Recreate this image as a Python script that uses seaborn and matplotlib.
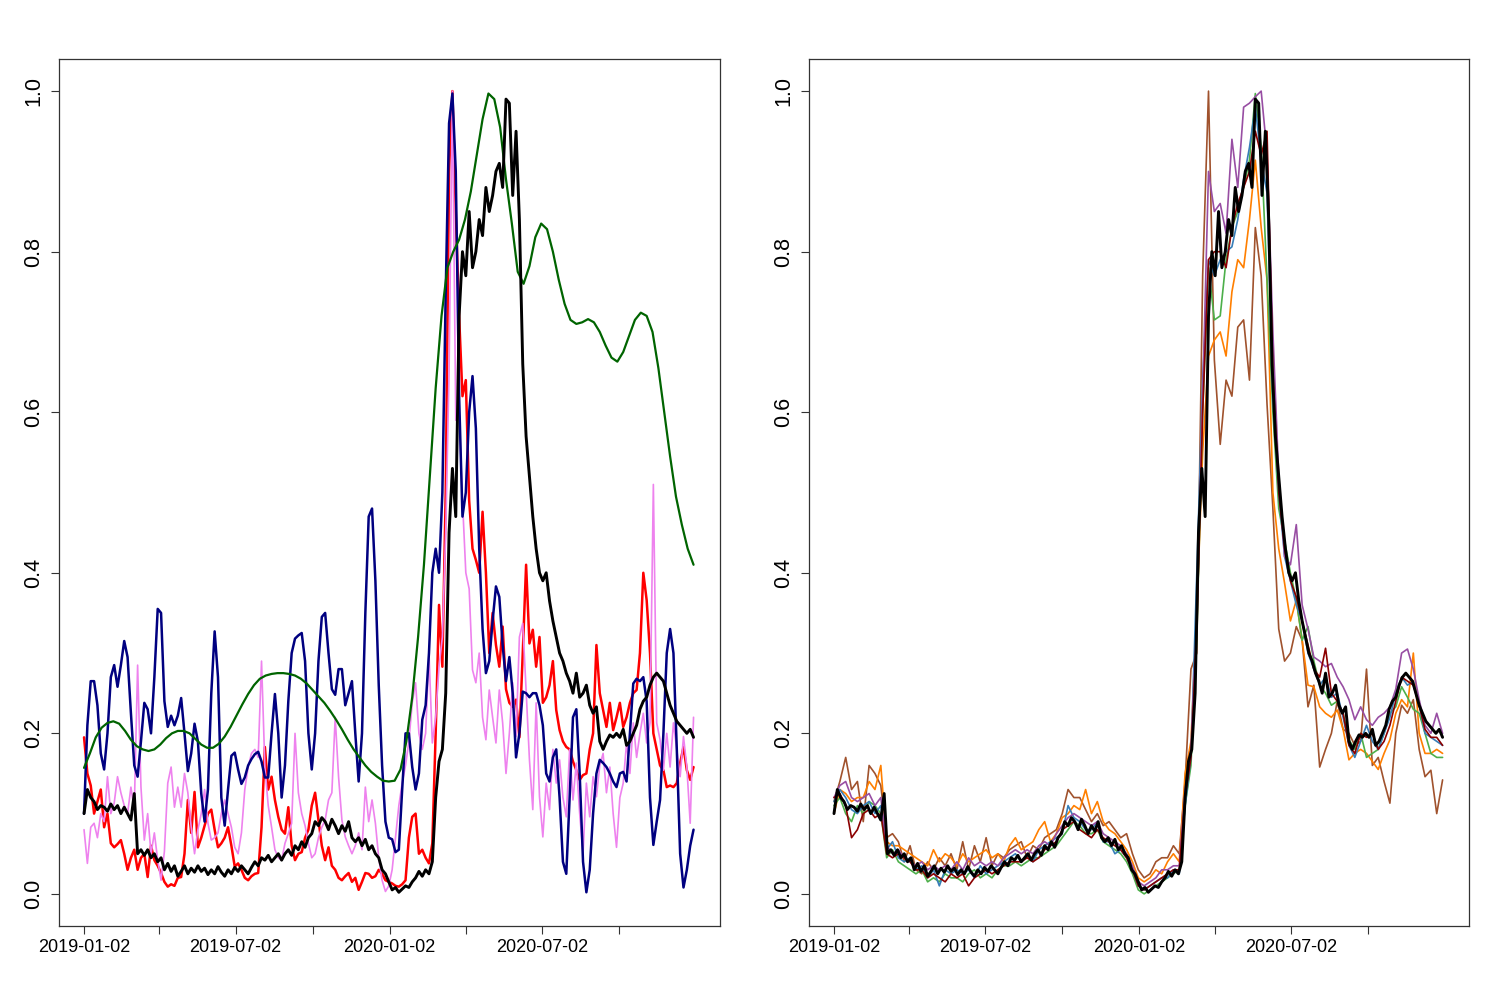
import numpy as np
import pandas as pd
import matplotlib
matplotlib.use("Agg")
import matplotlib.pyplot as plt
import seaborn as sns

# ---------------- data ----------------
start = "2019-01-02"
n4 = 183   # samples every 4 days
n7 = 105   # samples every 7 days

black = [
    0.10, 0.13, 0.12, 0.115, 0.105, 0.11, 0.108, 0.103, 0.112, 0.105,
    0.11, 0.10, 0.108, 0.10, 0.092, 0.125, 0.05, 0.055, 0.048, 0.055,
    0.045, 0.05, 0.04, 0.045, 0.03, 0.038, 0.028, 0.035, 0.022, 0.028,
    0.035, 0.025, 0.032, 0.027, 0.035, 0.028, 0.032, 0.024, 0.03, 0.025,
    0.034, 0.027, 0.022, 0.03, 0.025, 0.033, 0.028, 0.035, 0.03, 0.025,
    0.033, 0.04, 0.035, 0.045, 0.042, 0.048, 0.04, 0.045, 0.05, 0.042,
    0.05, 0.055, 0.048, 0.06, 0.055, 0.065, 0.058, 0.07, 0.075, 0.09,
    0.085, 0.095, 0.09, 0.08, 0.093, 0.085, 0.075, 0.085, 0.078, 0.09,
    0.07, 0.065, 0.07, 0.06, 0.068, 0.055, 0.06, 0.05, 0.045, 0.03,
    0.025, 0.015, 0.005, 0.008, 0.002, 0.006, 0.01, 0.008, 0.015, 0.02,
    0.028, 0.022, 0.03, 0.025, 0.04, 0.12, 0.165, 0.18, 0.25, 0.45,
    0.53, 0.47, 0.72, 0.8, 0.77, 0.85, 0.78, 0.8, 0.84, 0.82,
    0.88, 0.85, 0.87, 0.9, 0.91, 0.88, 0.99, 0.985, 0.87, 0.95,
    0.84, 0.66, 0.57, 0.52, 0.47, 0.43, 0.40, 0.39, 0.40, 0.365,
    0.34, 0.32, 0.30, 0.29, 0.275, 0.265, 0.25, 0.275, 0.245, 0.25,
    0.26, 0.235, 0.225, 0.233, 0.19, 0.18, 0.19, 0.198, 0.195, 0.2,
    0.195, 0.205, 0.185, 0.19, 0.2, 0.21, 0.23, 0.24, 0.245, 0.26,
    0.27, 0.275, 0.27, 0.265, 0.25, 0.235, 0.225, 0.215, 0.21, 0.205,
    0.2, 0.205, 0.195]

navy = [
    0.10, 0.21, 0.265, 0.265, 0.235, 0.175, 0.155, 0.2, 0.27, 0.285,
    0.258, 0.285, 0.315, 0.295, 0.225, 0.16, 0.146, 0.19, 0.238, 0.23,
    0.2, 0.27, 0.355, 0.35, 0.24, 0.208, 0.222, 0.21, 0.222, 0.244,
    0.2, 0.153, 0.175, 0.212, 0.19, 0.125, 0.09, 0.13, 0.25, 0.327,
    0.27, 0.12, 0.085, 0.13, 0.172, 0.176, 0.155, 0.137, 0.145, 0.16,
    0.168, 0.174, 0.177, 0.165, 0.145, 0.145, 0.2, 0.249, 0.2, 0.12,
    0.16, 0.24, 0.3, 0.318, 0.322, 0.325, 0.29, 0.2, 0.155, 0.2,
    0.29, 0.345, 0.35, 0.3, 0.255, 0.248, 0.28, 0.28, 0.235, 0.25,
    0.265, 0.2, 0.14, 0.2, 0.35, 0.47, 0.48, 0.39, 0.26, 0.16,
    0.09, 0.07, 0.068, 0.052, 0.055, 0.13, 0.2, 0.2, 0.158, 0.13,
    0.15, 0.217, 0.235, 0.3, 0.4, 0.43, 0.4, 0.5, 0.75, 0.96,
    0.997, 0.9, 0.62, 0.47, 0.5, 0.6, 0.645, 0.58, 0.43, 0.33,
    0.275, 0.29, 0.34, 0.383, 0.37, 0.31, 0.265, 0.295, 0.25, 0.17,
    0.2, 0.252, 0.25, 0.245, 0.25, 0.25, 0.235, 0.21, 0.15, 0.14,
    0.17, 0.18, 0.12, 0.04, 0.025, 0.12, 0.22, 0.23, 0.15, 0.04,
    0.002, 0.03, 0.1, 0.15, 0.167, 0.163, 0.158, 0.15, 0.14, 0.133,
    0.15, 0.152, 0.14, 0.2, 0.262, 0.268, 0.265, 0.27, 0.24, 0.12,
    0.061, 0.09, 0.117, 0.2, 0.3, 0.33, 0.3, 0.18, 0.05, 0.008,
    0.03, 0.06, 0.08]

red = [
    0.195, 0.15, 0.135, 0.10, 0.115, 0.13, 0.083, 0.1, 0.063, 0.058,
    0.062, 0.067, 0.05, 0.03, 0.045, 0.055, 0.03, 0.045, 0.05, 0.021,
    0.06, 0.042, 0.035, 0.026, 0.015, 0.009, 0.012, 0.01, 0.02, 0.021,
    0.05, 0.117, 0.076, 0.127, 0.058, 0.07, 0.085, 0.1, 0.105, 0.08,
    0.058, 0.063, 0.07, 0.083, 0.06, 0.034, 0.038, 0.03, 0.02, 0.017,
    0.022, 0.025, 0.026, 0.083, 0.183, 0.13, 0.146, 0.117, 0.096, 0.08,
    0.075, 0.108, 0.06, 0.042, 0.05, 0.052, 0.07, 0.08, 0.11, 0.126,
    0.092, 0.06, 0.042, 0.058, 0.035, 0.03, 0.02, 0.017, 0.022, 0.026,
    0.015, 0.02, 0.005, 0.015, 0.026, 0.025, 0.02, 0.022, 0.03, 0.025,
    0.017, 0.015, 0.013, 0.01, 0.009, 0.012, 0.017, 0.07, 0.096, 0.1,
    0.05, 0.055, 0.045, 0.038, 0.063, 0.2, 0.36, 0.283, 0.5, 0.9,
    1.0, 0.85, 0.72, 0.62, 0.64, 0.49, 0.43, 0.416, 0.4, 0.476,
    0.4, 0.3, 0.35, 0.31, 0.283, 0.333, 0.255, 0.238, 0.233, 0.242,
    0.195, 0.3, 0.41, 0.312, 0.329, 0.283, 0.32, 0.238, 0.245, 0.26,
    0.29, 0.229, 0.204, 0.19, 0.183, 0.18, 0.165, 0.154, 0.142, 0.148,
    0.15, 0.18, 0.2, 0.31, 0.25, 0.229, 0.208, 0.238, 0.204, 0.22,
    0.238, 0.208, 0.22, 0.238, 0.25, 0.254, 0.3, 0.4, 0.366, 0.3,
    0.2, 0.18, 0.16, 0.154, 0.133, 0.135, 0.133, 0.138, 0.163, 0.183,
    0.154, 0.142, 0.158]

violet = [
    0.08, 0.038, 0.083, 0.088, 0.07, 0.1, 0.09, 0.146, 0.1, 0.113,
    0.146, 0.126, 0.11, 0.1, 0.133, 0.105, 0.285, 0.133, 0.067, 0.1,
    0.05, 0.076, 0.042, 0.017, 0.053, 0.138, 0.158, 0.108, 0.133, 0.108,
    0.15, 0.126, 0.083, 0.05, 0.08, 0.1, 0.13, 0.088, 0.067, 0.07,
    0.076, 0.1, 0.117, 0.1, 0.083, 0.058, 0.05, 0.076, 0.13, 0.158,
    0.175, 0.18, 0.17, 0.29, 0.158, 0.11, 0.083, 0.055, 0.045, 0.042,
    0.063, 0.075, 0.088, 0.2, 0.126, 0.1, 0.085, 0.063, 0.045, 0.05,
    0.07, 0.083, 0.092, 0.117, 0.126, 0.22, 0.146, 0.092, 0.071, 0.06,
    0.05, 0.06, 0.076, 0.055, 0.133, 0.09, 0.117, 0.088, 0.045, 0.017,
    0.003, 0.01, 0.03, 0.07, 0.11, 0.138, 0.16, 0.19, 0.238, 0.263,
    0.2, 0.18, 0.2, 0.3, 0.188, 0.22, 0.283, 0.32, 0.45, 0.65,
    1.0, 0.59, 0.6, 0.49, 0.4, 0.38, 0.279, 0.263, 0.3, 0.22,
    0.192, 0.254, 0.22, 0.188, 0.254, 0.213, 0.15, 0.2, 0.263, 0.196,
    0.32, 0.337, 0.254, 0.167, 0.105, 0.238, 0.121, 0.071, 0.138, 0.105,
    0.18, 0.138, 0.167, 0.12, 0.096, 0.18, 0.117, 0.163, 0.1, 0.05,
    0.138, 0.096, 0.146, 0.121, 0.16, 0.175, 0.126, 0.158, 0.1, 0.058,
    0.12, 0.138, 0.188, 0.15, 0.213, 0.17, 0.2, 0.225, 0.188, 0.213,
    0.51, 0.213, 0.192, 0.154, 0.2, 0.158, 0.213, 0.18, 0.146, 0.196,
    0.158, 0.088, 0.22]

darkgreen = [
    0.157, 0.175, 0.195, 0.207, 0.213, 0.215, 0.212, 0.203, 0.192, 0.184,
    0.18, 0.178, 0.18, 0.186, 0.194, 0.2, 0.203, 0.203, 0.2, 0.193,
    0.186, 0.182, 0.182, 0.187, 0.196, 0.208, 0.222, 0.236, 0.249, 0.26,
    0.268, 0.272, 0.274, 0.275, 0.275, 0.274, 0.272, 0.268, 0.262, 0.254,
    0.246, 0.238, 0.228, 0.217, 0.205, 0.192, 0.18, 0.17, 0.16, 0.152,
    0.146, 0.141, 0.14, 0.141, 0.155, 0.19, 0.245, 0.32, 0.41, 0.52,
    0.63, 0.72, 0.78, 0.8, 0.815, 0.84, 0.875, 0.92, 0.965, 0.997,
    0.99, 0.955, 0.89, 0.835, 0.775, 0.76, 0.782, 0.818, 0.835, 0.828,
    0.8, 0.765, 0.735, 0.715, 0.71, 0.712, 0.716, 0.712, 0.7, 0.683,
    0.668, 0.663, 0.675, 0.695, 0.715, 0.724, 0.72, 0.7, 0.655, 0.6,
    0.545, 0.495, 0.46, 0.43, 0.41]

m_blue = [
    0.115, 0.13, 0.12, 0.105, 0.1, 0.11, 0.115, 0.1, 0.11, 0.055,
    0.065, 0.045, 0.04, 0.045, 0.03, 0.035, 0.02, 0.03, 0.01, 0.03,
    0.025, 0.03, 0.025, 0.03, 0.02, 0.035, 0.025, 0.03, 0.035, 0.04,
    0.045, 0.05, 0.04, 0.05, 0.04, 0.055, 0.06, 0.065, 0.07, 0.075,
    0.11, 0.095, 0.09, 0.08, 0.08, 0.09, 0.065, 0.065, 0.05, 0.055,
    0.045, 0.03, 0.01, 0.005, 0.01, 0.015, 0.02, 0.02, 0.03, 0.025,
    0.11, 0.17, 0.4, 0.64, 0.79, 0.77, 0.79, 0.8, 0.806, 0.84,
    0.89, 0.93, 0.98, 0.914, 0.873, 0.62, 0.5, 0.42, 0.39, 0.36,
    0.34, 0.3, 0.28, 0.26, 0.27, 0.245, 0.25, 0.22, 0.185, 0.17,
    0.19, 0.21, 0.19, 0.18, 0.2, 0.22, 0.25, 0.27, 0.26, 0.265,
    0.235, 0.2, 0.195, 0.19, 0.185]

m_green = [
    0.11, 0.12, 0.1, 0.09, 0.11, 0.1, 0.115, 0.11, 0.1, 0.045,
    0.055, 0.04, 0.035, 0.03, 0.025, 0.03, 0.015, 0.02, 0.015, 0.025,
    0.02, 0.02, 0.015, 0.025, 0.03, 0.02, 0.025, 0.02, 0.03, 0.035,
    0.035, 0.04, 0.035, 0.04, 0.045, 0.045, 0.05, 0.055, 0.06, 0.07,
    0.08, 0.09, 0.085, 0.075, 0.075, 0.08, 0.065, 0.06, 0.055, 0.05,
    0.04, 0.025, 0.005, 0.0, 0.005, 0.01, 0.015, 0.02, 0.025, 0.03,
    0.11, 0.16, 0.32, 0.6, 0.78, 0.715, 0.72, 0.79, 0.83, 0.85,
    0.88, 0.914, 0.997, 0.93, 0.765, 0.6, 0.48, 0.44, 0.4, 0.366,
    0.316, 0.333, 0.29, 0.26, 0.25, 0.235, 0.24, 0.225, 0.192, 0.18,
    0.2, 0.17, 0.175, 0.18, 0.2, 0.225, 0.233, 0.258, 0.245, 0.23,
    0.225, 0.2, 0.175, 0.17, 0.17]

m_purple = [
    0.12, 0.135, 0.14, 0.12, 0.115, 0.12, 0.125, 0.11, 0.12, 0.06,
    0.05, 0.055, 0.045, 0.04, 0.035, 0.04, 0.03, 0.035, 0.03, 0.035,
    0.03, 0.04, 0.03, 0.045, 0.035, 0.04, 0.035, 0.04, 0.035, 0.045,
    0.05, 0.055, 0.05, 0.055, 0.05, 0.06, 0.065, 0.06, 0.075, 0.085,
    0.095, 0.1, 0.095, 0.09, 0.085, 0.09, 0.075, 0.07, 0.065, 0.06,
    0.05, 0.035, 0.015, 0.01, 0.015, 0.02, 0.03, 0.03, 0.035, 0.035,
    0.13, 0.18, 0.34, 0.62, 0.9, 0.85, 0.86, 0.823, 0.94, 0.88,
    0.98, 0.985, 0.993, 1.0, 0.923, 0.7, 0.52, 0.42, 0.41, 0.46,
    0.36, 0.33, 0.295, 0.29, 0.283, 0.287, 0.27, 0.258, 0.242, 0.217,
    0.233, 0.217, 0.21, 0.22, 0.225, 0.233, 0.255, 0.3, 0.305, 0.28,
    0.242, 0.21, 0.2, 0.225, 0.2]

m_orange = [
    0.10, 0.13, 0.125, 0.115, 0.12, 0.12, 0.14, 0.13, 0.16, 0.065,
    0.06, 0.06, 0.055, 0.05, 0.045, 0.04, 0.035, 0.055, 0.04, 0.05,
    0.045, 0.035, 0.05, 0.04, 0.045, 0.05, 0.055, 0.045, 0.05, 0.04,
    0.06, 0.07, 0.055, 0.06, 0.065, 0.08, 0.09, 0.065, 0.075, 0.095,
    0.1, 0.11, 0.105, 0.13, 0.1, 0.115, 0.09, 0.08, 0.075, 0.065,
    0.055, 0.04, 0.02, 0.015, 0.02, 0.03, 0.025, 0.04, 0.05, 0.04,
    0.15, 0.19, 0.35, 0.55, 0.67, 0.69, 0.7, 0.67, 0.75, 0.79,
    0.78, 0.84, 0.914, 0.83, 0.765, 0.5, 0.43, 0.387, 0.34, 0.366,
    0.316, 0.26, 0.258, 0.233, 0.225, 0.22, 0.229, 0.205, 0.167, 0.175,
    0.18, 0.175, 0.165, 0.155, 0.175, 0.192, 0.225, 0.242, 0.233, 0.3,
    0.2, 0.175, 0.175, 0.18, 0.175]

m_brown = [
    0.115, 0.14, 0.17, 0.13, 0.14, 0.09, 0.16, 0.15, 0.135, 0.07,
    0.075, 0.065, 0.04, 0.06, 0.03, 0.025, 0.04, 0.03, 0.045, 0.035,
    0.05, 0.03, 0.065, 0.03, 0.06, 0.04, 0.07, 0.035, 0.05, 0.045,
    0.055, 0.06, 0.065, 0.045, 0.06, 0.055, 0.07, 0.075, 0.08, 0.1,
    0.13, 0.12, 0.12, 0.105, 0.09, 0.1, 0.085, 0.09, 0.08, 0.07,
    0.075, 0.05, 0.03, 0.02, 0.025, 0.04, 0.045, 0.045, 0.06, 0.05,
    0.14, 0.28, 0.3, 0.77, 1.0, 0.665, 0.56, 0.64, 0.62, 0.706,
    0.715, 0.64, 0.83, 0.77, 0.61, 0.48, 0.33, 0.29, 0.3, 0.333,
    0.316, 0.233, 0.26, 0.158, 0.18, 0.2, 0.24, 0.205, 0.2, 0.185,
    0.19, 0.28, 0.16, 0.17, 0.14, 0.113, 0.2, 0.235, 0.225, 0.242,
    0.18, 0.146, 0.154, 0.1, 0.142]

m_darkred = [
    0.12, 0.125, 0.11, 0.07, 0.08, 0.1, 0.105, 0.095, 0.1, 0.05,
    0.045, 0.05, 0.045, 0.04, 0.03, 0.03, 0.02, 0.025, 0.02, 0.015,
    0.025, 0.02, 0.025, 0.01, 0.02, 0.025, 0.03, 0.025, 0.03, 0.035,
    0.04, 0.04, 0.04, 0.045, 0.04, 0.045, 0.055, 0.06, 0.065, 0.08,
    0.085, 0.09, 0.08, 0.075, 0.07, 0.08, 0.07, 0.065, 0.06, 0.055,
    0.045, 0.03, 0.01, 0.005, 0.01, 0.015, 0.02, 0.025, 0.03, 0.03,
    0.12, 0.17, 0.33, 0.6, 0.79, 0.8, 0.8, 0.78, 0.83, 0.86,
    0.88, 0.9, 0.95, 0.92, 0.95, 0.65, 0.5, 0.43, 0.39, 0.37,
    0.34, 0.31, 0.28, 0.27, 0.306, 0.25, 0.24, 0.225, 0.185, 0.175,
    0.2, 0.195, 0.2, 0.18, 0.19, 0.21, 0.24, 0.27, 0.265, 0.26,
    0.235, 0.205, 0.195, 0.195, 0.185]

tick_dates = ["2019-01-02", "2019-04-02", "2019-07-02", "2019-10-02",
              "2020-01-02", "2020-04-02", "2020-07-02", "2020-10-02"]
tick_labels = ["2019-01-02", "", "2019-07-02", "", "2020-01-02", "", "2020-07-02", ""]
y_ticks = [0.0, 0.2, 0.4, 0.6, 0.8, 1.0]
y_labels = ["0.0", "0.2", "0.4", "0.6", "0.8", "1.0"]

# ---------------- plotting ----------------
sns.set_theme(style="white")
plt.rcParams["font.family"] = ["Liberation Sans", "DejaVu Sans"]
plt.rcParams["text.color"] = "black"
plt.rcParams["xtick.color"] = "black"
plt.rcParams["ytick.color"] = "black"
plt.rcParams["xtick.labelcolor"] = "black"
plt.rcParams["ytick.labelcolor"] = "black"

d0 = pd.Timestamp(start)
dates4 = pd.date_range(d0, periods=n4, freq="4D")
dates7 = pd.date_range(d0, periods=n7, freq="7D")

fig = plt.figure(figsize=(15, 10), dpi=100)
fig.patch.set_facecolor("white")
axL = fig.add_axes([59 / 1500, 74 / 1000, 661 / 1500, 867 / 1000])
axR = fig.add_axes([809 / 1500, 74 / 1000, 660 / 1500, 867 / 1000])


def draw(ax, x, y, color, lw):
    sns.lineplot(x=x, y=y, ax=ax, color=color, linewidth=lw,
                 estimator=None, sort=False, legend=False)


# left panel
draw(axL, dates4, red, "#FF0000", 1.8)
draw(axL, dates4, violet, "#EE82EE", 1.2)
draw(axL, dates4, navy, "#000080", 1.8)
draw(axL, dates7, darkgreen, "#006400", 1.6)
draw(axL, dates4, black, "#000000", 2.1)

# right panel
draw(axR, dates7, m_brown, "#A0522D", 1.2)
draw(axR, dates7, m_orange, "#FF7F00", 1.2)
draw(axR, dates7, m_green, "#4DAF4A", 1.2)
draw(axR, dates7, m_blue, "#377EB8", 1.2)
draw(axR, dates7, m_purple, "#984EA3", 1.2)
draw(axR, dates7, m_darkred, "#8B0000", 1.2)
draw(axR, dates4, black, "#000000", 2.1)

for ax in (axL, axR):
    ax.set_facecolor("white")
    ax.grid(False)
    ax.set_xlim(d0 - pd.Timedelta(days=29.9), d0 + pd.Timedelta(days=759.6))
    ax.set_ylim(-0.04, 1.04)
    ax.set_xticks(pd.to_datetime(tick_dates))
    ax.set_xticklabels(tick_labels, fontsize=13, color="black")
    ax.set_yticks(y_ticks)
    ax.set_yticklabels(y_labels, fontsize=15.5, color="black")
    for lab in ax.get_yticklabels():
        lab.set_rotation(90)
        lab.set_va("center")
    ax.tick_params(axis="both", which="both", direction="out", length=5.5,
                   width=0.8, color="#333333", bottom=True, left=True)
    ax.tick_params(axis="x", pad=4)
    ax.tick_params(axis="y", pad=5)
    ax.set_xlabel("")
    ax.set_ylabel("")
    for s in ax.spines.values():
        s.set_visible(True)
        s.set_color("#333333")
        s.set_linewidth(0.9)

fig.savefig("out.png", dpi=100, facecolor="white")
